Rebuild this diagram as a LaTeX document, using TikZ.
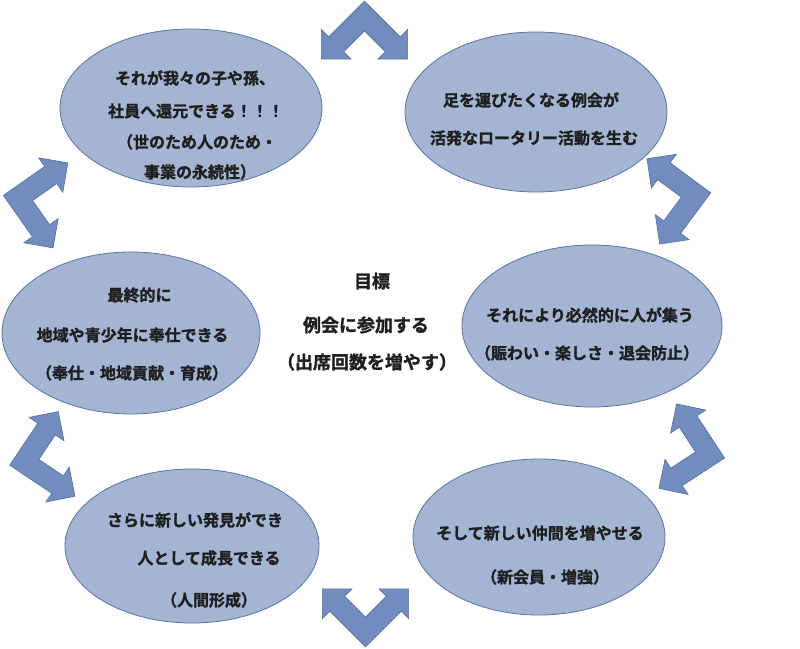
\documentclass[tikz,border=0pt]{standalone}
\usepackage{fontspec}
\setmainfont{Noto Sans CJK JP Bold}[FakeBold=1.5]
\usetikzlibrary{shapes.geometric}
\definecolor{ellfill}{RGB}{163,181,211}
\definecolor{elledge}{RGB}{92,116,158}
\definecolor{arrfill}{RGB}{112,141,190}
\definecolor{arredge}{RGB}{84,110,156}
\tikzset{
  ellnode/.style={ellipse, draw=elledge, fill=ellfill, line width=0.8pt, inner sep=0pt},
  txt/.style={font=\fontsize{16}{18}\selectfont, text=black!88, inner sep=0pt},
  bigtxt/.style={font=\fontsize{18}{20}\selectfont, text=black!88, inner sep=0pt},
  arrowshape/.style={fill=arrfill, draw=arredge, line width=0.6pt, line join=miter},
  bentarr/.pic={
    \path[arrowshape] (0,14.85) -- (-35.70,-20.86) -- (-43.13,-13.43) -- (-43.13,-43.13)
      -- (-13.43,-43.13) -- (-20.86,-35.70) -- (0,-14.85) -- (20.86,-35.70)
      -- (13.43,-43.13) -- (43.13,-43.13) -- (43.13,-13.43) -- (35.70,-20.86) -- cycle;
  }
}
\begin{document}
\begin{tikzpicture}[x=1pt,y=1pt]
\useasboundingbox[fill=white] (0,0) rectangle (800,648);
% ellipses
\node[ellnode, minimum width=262pt, minimum height=158pt] (tl) at (191,540) {};
\node[ellnode, minimum width=262pt, minimum height=160pt] (tr) at (536,536) {};
\node[ellnode, minimum width=258pt, minimum height=162pt] (ml) at (131,315) {};
\node[ellnode, minimum width=260pt, minimum height=162pt] (mr) at (592,322) {};
\node[ellnode, minimum width=254pt, minimum height=154pt] (bl) at (192,102) {};
\node[ellnode, minimum width=252pt, minimum height=156pt] (br) at (539,111) {};
% arrows
\pic at (364.5,632) {bentarr};
\pic[rotate=180] at (365.5,16) {bentarr};
\pic[rotate=80.1] at (18,450) {bentarr};
\pic[rotate=-81.5] at (696,453) {bentarr};
\pic[rotate=101.2] at (24.3,185.7) {bentarr};
\pic[rotate=-101.8] at (710,193) {bentarr};
% texts
\node[txt] (tl1) at (195,570) {それが我々の子や孫、};
\node[txt] (tl2) at (196,537) {社員へ還元できる！！！};
\node[txt] (tl3) at (197,506) {（世のため人のため・};
\node[txt] (tl4) at (200,476) {事業の永続性）};
\node[txt] (tr1) at (531,548) {足を運びたくなる例会が};
\node[txt] (tr2) at (534,510) {活発なロータリー活動を生む};
\node[txt] (ml1) at (139.5,353) {最終的に};
\node[txt] (ml2) at (132.5,313) {地域や青少年に奉仕できる};
\node[txt] (ml3) at (132,275) {（奉仕・地域貢献・育成）};
\node[txt] (mr1) at (590,333) {それにより必然的に人が集う};
\node[txt] (mr2) at (587,295) {（賑わい・楽しさ・退会防止）};
\node[bigtxt] (c1) at (372,367) {目標};
\node[bigtxt] (c2) at (366,323) {例会に参加する};
\node[bigtxt] (c3) at (367,286) {（出席回数を増やす）};
\node[txt] (bl1) at (195,128) {さらに新しい発見ができ};
\node[txt] (bl2) at (209,90) {人として成長できる};
\node[txt] (bl3) at (209,48) {（人間形成）};
\node[txt] (br1) at (540,115) {そして新しい仲間を増やせる};
\node[txt] (br2) at (545,71) {（新会員・増強）};
\end{tikzpicture}
\end{document}
